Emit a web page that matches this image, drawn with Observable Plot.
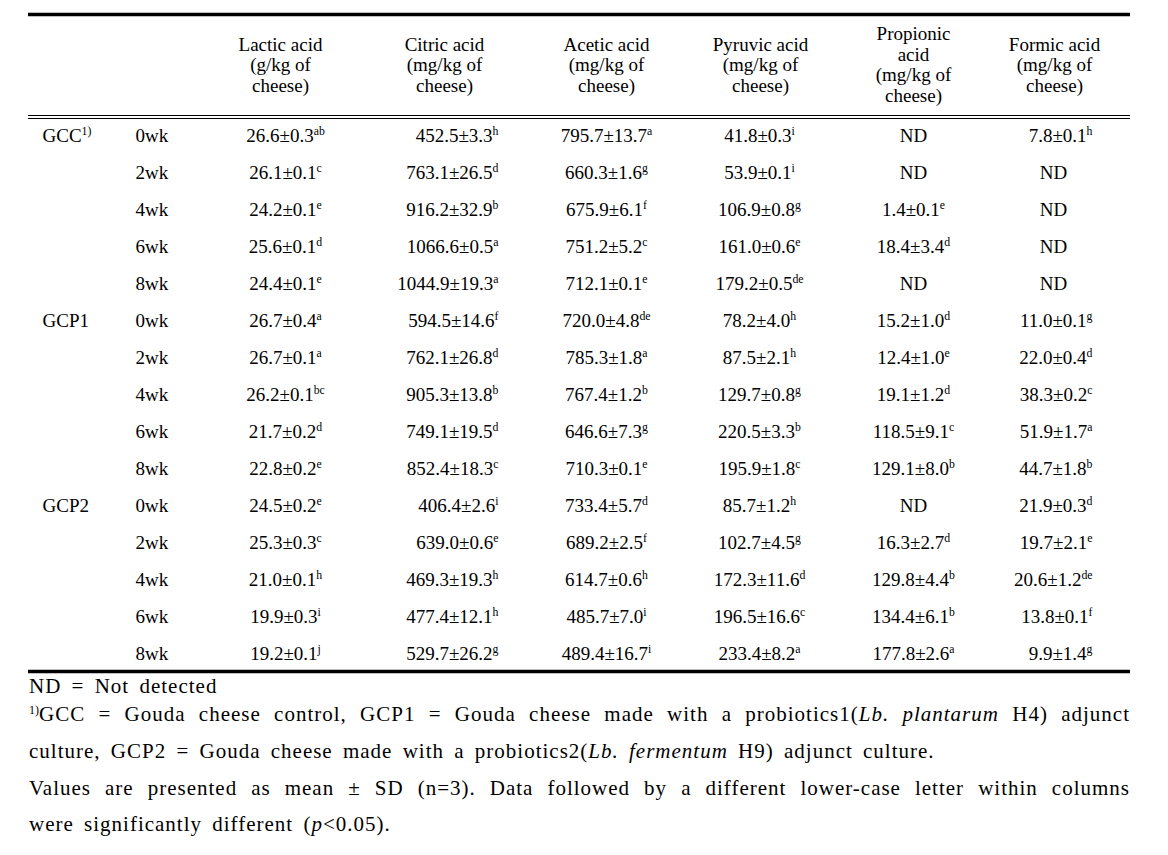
<!DOCTYPE html>
<html>
<head>
<meta charset="utf-8">
<script src="https://cdn.jsdelivr.net/npm/d3@7"></script>
<script src="https://cdn.jsdelivr.net/npm/@observablehq/plot@0.6"></script>
<style>
  html, body { margin: 0; padding: 0; background: #fff; }
  #wrap { position: relative; width: 1168px; height: 855px; font-family: 'Liberation Serif', serif; color: #000; }
  #chart svg { display: block; }
  .note { position: absolute; left: 29px; width: 1101px; font-size: 21px; line-height: 24px; letter-spacing: 1px; word-spacing: 4px; white-space: nowrap; font-family: 'Liberation Serif', serif; }
  .just { text-align: justify; text-align-last: justify; white-space: normal; }
  .note sup { font-size: 12px; vertical-align: 7px; line-height: 0; letter-spacing: 0; }
</style>
</head>
<body>
<div id="wrap">
  <div id="chart"></div>
  <div class="note" style="top:674px">ND = Not detected</div>
  <div class="note just" style="top:702px"><sup>1)</sup>GCC = Gouda cheese control, GCP1 = Gouda cheese made with a probiotics1(<i>Lb. plantarum</i> H4) adjunct</div>
  <div class="note" style="top:739px">culture, GCP2 = Gouda cheese made with a probiotics2(<i>Lb. fermentum</i> H9) adjunct culture.</div>
  <div class="note just" style="top:776px">Values are presented as mean ± SD (n=3). Data followed by a different lower-case letter within columns</div>
  <div class="note" style="top:812px">were significantly different (<i>p</i>&lt;0.05).</div>
</div>
<script>
// ---------- data ----------
const groups = ["GCC", "GCP1", "GCP2"];
const groupLabels = ["GCC^1)", "GCP1", "GCP2"];
const weeks = ["0wk", "2wk", "4wk", "6wk", "8wk"];
const acidKeys = ["Lactic", "Citric", "Acetic", "Pyruvic", "Propionic", "Formic"];
const acidHeaders = [
  "Lactic acid\n(g/kg of\ncheese)",
  "Citric acid\n(mg/kg of\ncheese)",
  "Acetic acid\n(mg/kg of\ncheese)",
  "Pyruvic acid\n(mg/kg of\ncheese)",
  "Propionic\nacid\n(mg/kg of\ncheese)",
  "Formic acid\n(mg/kg of\ncheese)"
];

const lacticMean = [26.6, 26.1, 24.2, 25.6, 24.4, 26.7, 26.7, 26.2, 21.7, 22.8, 24.5, 25.3, 21.0, 19.9, 19.2];
const lacticSD   = [0.3, 0.1, 0.1, 0.1, 0.1, 0.4, 0.1, 0.1, 0.2, 0.2, 0.2, 0.3, 0.1, 0.3, 0.1];
const lacticSig  = ["ab", "c", "e", "d", "e", "a", "a", "bc", "d", "e", "e", "c", "h", "i", "j"];

const citricMean = [452.5, 763.1, 916.2, 1066.6, 1044.9, 594.5, 762.1, 905.3, 749.1, 852.4, 406.4, 639.0, 469.3, 477.4, 529.7];
const citricSD   = [3.3, 26.5, 32.9, 0.5, 19.3, 14.6, 26.8, 13.8, 19.5, 18.3, 2.6, 0.6, 19.3, 12.1, 26.2];
const citricSig  = ["h", "d", "b", "a", "a", "f", "d", "b", "d", "c", "i", "e", "h", "h", "g"];

const aceticMean = [795.7, 660.3, 675.9, 751.2, 712.1, 720.0, 785.3, 767.4, 646.6, 710.3, 733.4, 689.2, 614.7, 485.7, 489.4];
const aceticSD   = [13.7, 1.6, 6.1, 5.2, 0.1, 4.8, 1.8, 1.2, 7.3, 0.1, 5.7, 2.5, 0.6, 7.0, 16.7];
const aceticSig  = ["a", "g", "f", "c", "e", "de", "a", "b", "g", "e", "d", "f", "h", "i", "i"];

const pyruvicMean = [41.8, 53.9, 106.9, 161.0, 179.2, 78.2, 87.5, 129.7, 220.5, 195.9, 85.7, 102.7, 172.3, 196.5, 233.4];
const pyruvicSD   = [0.3, 0.1, 0.8, 0.6, 0.5, 4.0, 2.1, 0.8, 3.3, 1.8, 1.2, 4.5, 11.6, 16.6, 8.2];
const pyruvicSig  = ["i", "i", "g", "e", "de", "h", "h", "g", "b", "c", "h", "g", "d", "c", "a"];

const propionicMean = [null, null, 1.4, 18.4, null, 15.2, 12.4, 19.1, 118.5, 129.1, null, 16.3, 129.8, 134.4, 177.8];
const propionicSD   = [null, null, 0.1, 3.4, null, 1.0, 1.0, 1.2, 9.1, 8.0, null, 2.7, 4.4, 6.1, 2.6];
const propionicSig  = [null, null, "e", "d", null, "d", "e", "d", "c", "b", null, "d", "b", "b", "a"];

const formicMean = [7.8, null, null, null, null, 11.0, 22.0, 38.3, 51.9, 44.7, 21.9, 19.7, 20.6, 13.8, 9.9];
const formicSD   = [0.1, null, null, null, null, 0.1, 0.4, 0.2, 1.7, 1.8, 0.3, 2.1, 1.2, 0.1, 1.4];
const formicSig  = ["h", null, null, null, null, "g", "d", "c", "a", "b", "d", "e", "de", "f", "g"];

// ---------- assemble table ----------
const series = {
  Lactic: [lacticMean, lacticSD, lacticSig],
  Citric: [citricMean, citricSD, citricSig],
  Acetic: [aceticMean, aceticSD, aceticSig],
  Pyruvic: [pyruvicMean, pyruvicSD, pyruvicSig],
  Propionic: [propionicMean, propionicSD, propionicSig],
  Formic: [formicMean, formicSD, formicSig]
};
const rowIds = groups.flatMap(g => weeks.map(w => g + "-" + w));
const rowTable = rowIds.map((id, i) => ({
  row: id,
  week: weeks[i % weeks.length],
  group: i % weeks.length === 0 ? groupLabels[Math.floor(i / weeks.length)] : null
}));
function cellsFor(key) {
  const [m, s, g] = series[key];
  return rowIds.map((id, i) => ({
    row: id, col: key, nd: m[i] == null,
    text: m[i] == null ? "ND" : `${m[i].toFixed(1)}±${s[i].toFixed(1)}^${g[i]}`
  }));
}

// ---------- per-column layout (style only) ----------
const colLayout = {
  Lactic:    {head: -3, anchor: "middle", dx: 2},
  Citric:    {head: 7,  anchor: "end",    dx: 61},
  Acetic:    {head: 15, anchor: "middle", dx: 15},
  Pyruvic:   {head: 15, anchor: "middle", dx: 14},
  Propionic: {head: 14, anchor: "middle", dx: 14},
  Formic:    {head: 1,  anchor: "end",    dx: 39}
};

const FS = 19;
const FONT = "'Liberation Serif', serif";
const marks = [];
// rules
marks.push(Plot.ruleY([rowIds[0]], {y: d => d, dy: -121, strokeWidth: 3.5}));
marks.push(Plot.ruleY([rowIds[0]], {y: d => d, dy: -20, strokeWidth: 1}));
marks.push(Plot.ruleY([rowIds[0]], {y: d => d, dy: -17, strokeWidth: 1}));
marks.push(Plot.ruleY([rowIds[rowIds.length - 1]], {y: d => d, dy: 18, strokeWidth: 3.5}));
// row labels
marks.push(Plot.text(rowTable.filter(d => d.group), {y: "row", text: "group", frameAnchor: "left", textAnchor: "start", dx: 14, fontSize: FS}));
marks.push(Plot.text(rowTable, {y: "row", text: "week", frameAnchor: "left", textAnchor: "start", dx: 107, fontSize: FS}));
// columns
acidKeys.forEach((key, j) => {
  const L = colLayout[key];
  marks.push(Plot.text([{col: key, label: acidHeaders[j]}], {
    x: "col", text: "label", frameAnchor: "top", dy: 51, dx: L.head,
    lineAnchor: "middle", lineHeight: 1.08, fontSize: FS, ariaLabel: "header"
  }));
  const cells = cellsFor(key);
  marks.push(Plot.text(cells.filter(d => !d.nd), {x: "col", y: "row", text: "text", textAnchor: L.anchor, dx: L.dx, fontSize: FS}));
  marks.push(Plot.text(cells.filter(d => d.nd), {x: "col", y: "row", text: "text", textAnchor: "middle", dx: key === "Formic" ? 0 : L.dx, fontSize: FS}));
});

const chart = Plot.plot({
  width: 1168,
  height: 676,
  marginTop: 13,
  marginBottom: 4,
  marginLeft: 28,
  marginRight: 38,
  style: {fontSize: FS + "px", background: "#fff", color: "#000"},
  x: {type: "point", domain: acidKeys, range: [281, 1054], padding: 0, axis: null},
  y: {type: "point", domain: rowIds, range: [134, 654], padding: 0, axis: null},
  marks
});
chart.style.fontFamily = FONT;
chart.setAttribute("font-family", FONT);

// superscripts and header word spacing
d3.select(chart).selectAll("text").each(function () {
  const s = this.textContent;
  if (!s.includes("^")) return;
  const [base, sup] = s.split("^");
  const t = d3.select(this);
  t.text(null);
  t.append("tspan").text(base);
  t.append("tspan").attr("dy", "-0.6em").attr("font-size", "0.62em").text(sup);
});
d3.select(chart).selectAll('g[aria-label="header"] text').style("word-spacing", "6px");

document.getElementById("chart").appendChild(chart);
</script>
</body>
</html>
